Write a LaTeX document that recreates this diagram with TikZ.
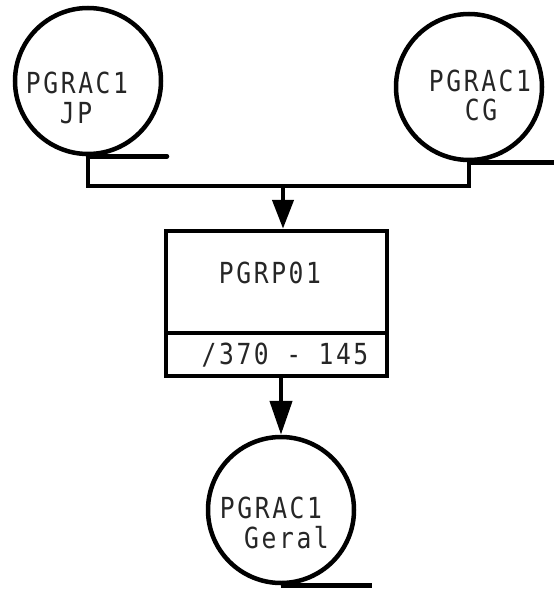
\documentclass[tikz,border=0pt]{standalone}
\usepackage{fontspec}
\setmonofont[FakeStretch=0.85,LetterSpace=9]{DejaVu Sans Mono}
\usetikzlibrary{arrows.meta}
\begin{document}
\begin{tikzpicture}[x=1pt,y=-1pt, line width=4.5pt,
  store/.style={draw, circle, minimum size=146pt, inner sep=0pt},
  proc/.style={draw, rectangle, minimum width=221pt, minimum height=145pt, inner sep=0pt},
  lbl/.style={font=\fontsize{29}{31}\selectfont\ttfamily, text=black!85, inner sep=0pt, anchor=base},
  flowA/.style={-{Triangle[length=29pt,width=21pt]}},
  flowB/.style={-{Triangle[length=34pt,width=22pt]}},
  tail/.style={line cap=round},
  ]
\useasboundingbox (0,0) rectangle (554,589);
% stores
\node[store] (jp) at (88,81) {};
\node[store] (cg) at (469,87) {};
\node[store] (ge) at (281,510) {};
% process box
\node[proc] (box) at (276.5,303.5) {};
\coordinate (div) at (0,333);
\draw (box.west |- div) -- (box.east |- div);
% labels
\node[lbl] (jp1) at (77,93) {PGRAC1};
\node[lbl] (jp2) at (76,123) {JP};
\node[lbl] (cg1) at (480,91) {PGRAC1};
\node[lbl] (cg2) at (481,120) {CG};
\node[lbl] (bx1) at (270,283) {PGRP01};
\node[lbl] (bx2) at (285,364) {/370 - 145};
\node[lbl] (ge1) at (271,518) {PGRAC1};
\node[lbl] (ge2) at (286.5,548) {Geral};
% tails
\coordinate (redge) at (554,0);
\draw[tail] (jp.south) -- ++(79,0);
\draw (cg.south) -- (cg.south -| redge);
\draw (ge.south) -- ++(91,0);
% bus
\coordinate (bus) at (283,186);
\draw[line join=miter] (jp.south) |- (bus) -| (cg.south);
\draw[flowA] (bus) -- (bus |- box.north);
\draw[flowB] (ge.north |- box.south) -- (ge.north);
\end{tikzpicture}
\end{document}
